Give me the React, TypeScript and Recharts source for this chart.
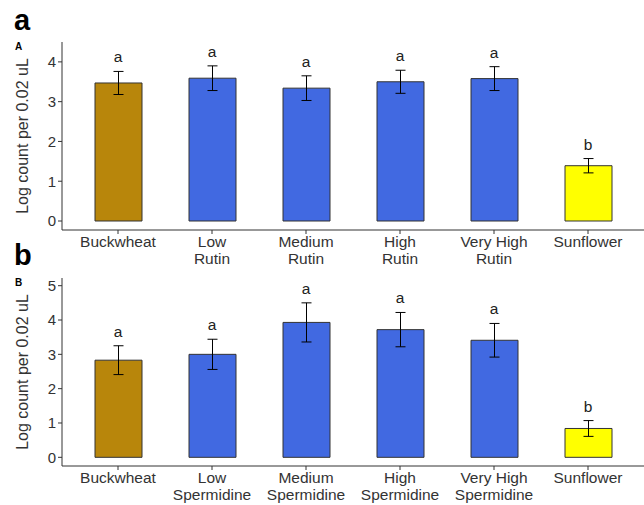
import {
  ComposedChart,
  Bar,
  Line,
  Cell,
  XAxis,
  YAxis,
  ErrorBar,
  LabelList,
} from 'recharts';

const FONT = '"Liberation Sans", Arial, sans-serif';

const groupsA = ['Buckwheat', 'Low\nRutin', 'Medium\nRutin', 'High\nRutin', 'Very High\nRutin', 'Sunflower'];
const meansA = [3.47, 3.59, 3.34, 3.5, 3.58, 1.39];
const seA = [0.29, 0.31, 0.31, 0.29, 0.3, 0.18];
const lettersA = ['a', 'a', 'a', 'a', 'a', 'b'];

const groupsB = ['Buckwheat', 'Low\nSpermidine', 'Medium\nSpermidine', 'High\nSpermidine', 'Very High\nSpermidine', 'Sunflower'];
const meansB = [2.83, 3.0, 3.93, 3.72, 3.41, 0.84];
const seB = [0.42, 0.44, 0.57, 0.5, 0.49, 0.23];
const lettersB = ['a', 'a', 'a', 'a', 'a', 'b'];

const ticksA = [0, 1, 2, 3, 4];
const ticksB = [0, 1, 2, 3, 4, 5];

// fill per group (same order for both panels)
const barColors = ['#B8860B', '#4169E1', '#4169E1', '#4169E1', '#4169E1', '#FFFF00'];

const build = (groups: string[], means: number[], se: number[], letters: string[]) =>
  groups.map((g, i) => ({
    group: g,
    mean: means[i],
    se: se[i],
    top: means[i] + se[i],
    letter: letters[i],
  }));

const dataA = build(groupsA, meansA, seA, lettersA);
const dataB = build(groupsB, meansB, seB, lettersB);

const XTick = (props: any) => {
  const { x, y, payload } = props;
  const lines = String(payload.value).split('\n');
  return (
    <text x={x} y={y} textAnchor="middle" fontSize={15.5} fill="#333" fontFamily={FONT}>
      {lines.map((l, i) => (
        <tspan key={i} x={x} dy={i === 0 ? 11 : 17}>
          {l}
        </tspan>
      ))}
    </text>
  );
};

interface PanelProps {
  data: ReturnType<typeof build>;
  domain: [number, number];
  ticks: number[];
  width: number;
  height: number;
  top: number;
  bottom: number;
  xHeight: number;
}

function Panel({ data, domain, ticks, width, height, top, bottom, xHeight }: PanelProps) {
  return (
    <ComposedChart
      width={width}
      height={height}
      data={data}
      margin={{ top, right: 0, bottom, left: 0 }}
      style={{ fontFamily: FONT }}
    >
      <XAxis
        dataKey="group"
        interval={0}
        height={xHeight}
        padding={{ left: 9, right: 9 }}
        tickSize={4}
        tickMargin={2}
        axisLine={{ stroke: '#333' }}
        tickLine={{ stroke: '#333' }}
        tick={<XTick />}
      />
      <YAxis
        type="number"
        domain={domain}
        ticks={ticks}
        allowDataOverflow
        width={62}
        tickSize={4}
        tickMargin={2}
        axisLine={{ stroke: '#333' }}
        tickLine={{ stroke: '#333' }}
        tick={{ fill: '#333', fontSize: 15, fontFamily: FONT }}
      />
      <Bar dataKey="mean" barSize={47} stroke="#333" strokeWidth={1} isAnimationActive={false}>
        {data.map((_, i) => (
          <Cell key={i} fill={barColors[i]} />
        ))}
        <ErrorBar dataKey="se" width={5} stroke="#000" strokeWidth={1} direction="y" />
      </Bar>
      <Line
        dataKey="top"
        stroke="none"
        dot={false}
        activeDot={false}
        legendType="none"
        isAnimationActive={false}
      >
        <LabelList dataKey="letter" position="top" offset={9} fill="#222" fontSize={15.5} fontFamily={FONT} />
      </Line>
    </ComposedChart>
  );
}

export default function App() {
  return (
    <div style={{ position: 'absolute', left: 0, top: 0, width: 644, height: 505, background: '#fff', overflow: 'hidden' }}>
      <div style={{ position: 'absolute', left: 0, top: 0 }}>
        <Panel data={dataA} domain={[-0.226, 4.5]} ticks={ticksA} width={644} height={272} top={42} bottom={7} xHeight={35} />
      </div>
      <div style={{ position: 'absolute', left: 0, top: 262 }}>
        <Panel data={dataB} domain={[-0.253, 5.224]} ticks={ticksB} width={644} height={243} top={16} bottom={0} xHeight={39} />
      </div>
      <svg
        width={644}
        height={505}
        style={{ position: 'absolute', left: 0, top: 0, pointerEvents: 'none' }}
        fontFamily={FONT}
      >
        <text x={14} y={30} fontSize={29} fontWeight="bold" fill="#000">a</text>
        <text x={15} y={50} fontSize={10} fontWeight="bold" fill="#000">A</text>
        <text x={14} y={265} fontSize={29} fontWeight="bold" fill="#000">b</text>
        <text x={15} y={286} fontSize={10} fontWeight="bold" fill="#000">B</text>
        <text x={28} y={136} fontSize={16} fill="#333" textAnchor="middle" transform="rotate(-90 28 136)">
          Log count per 0.02 uL
        </text>
        <text x={28} y={372} fontSize={16} fill="#333" textAnchor="middle" transform="rotate(-90 28 372)">
          Log count per 0.02 uL
        </text>
      </svg>
    </div>
  );
}
